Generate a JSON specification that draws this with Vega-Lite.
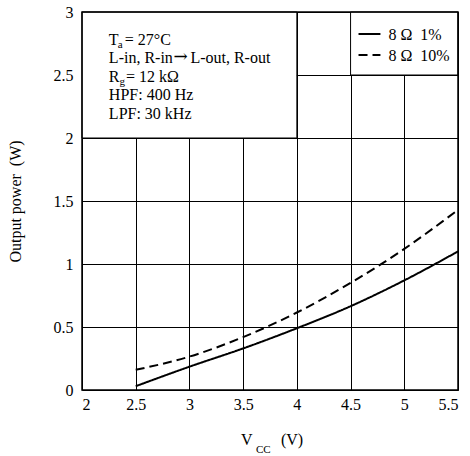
{
  "$schema": "https://vega.github.io/schema/vega-lite/v6.json",
  "width": 376,
  "height": 378,
  "autosize": {"type": "none"},
  "padding": {"left": 82, "top": 12, "right": 12, "bottom": 66},
  "background": "white",
  "config": {
    "view": {"stroke": null},
    "font": "Liberation Serif",
    "axis": {
      "labelFont": "Liberation Serif", "labelFontSize": 16, "labelColor": "black",
      "titleFont": "Liberation Serif", "titleFontSize": 16, "titleFontWeight": "normal", "titleColor": "black",
      "grid": true, "gridColor": "black", "gridWidth": 1, "gridOpacity": 1,
      "domain": false, "ticks": false
    }
  },
  "datasets": {
    "boxes": [
      {"x1": 2, "x2": 4, "y1": 2, "y2": 3},
      {"x1": 4.5, "x2": 5.5, "y1": 2.5, "y2": 3}
    ],
    "curves": [
      {"series": "8 Ω 1%", "V": 2.5, "P": 0.03},
      {"series": "8 Ω 1%", "V": 3.0, "P": 0.185},
      {"series": "8 Ω 1%", "V": 3.5, "P": 0.33},
      {"series": "8 Ω 1%", "V": 4.0, "P": 0.49},
      {"series": "8 Ω 1%", "V": 4.5, "P": 0.665},
      {"series": "8 Ω 1%", "V": 5.0, "P": 0.87},
      {"series": "8 Ω 1%", "V": 5.5, "P": 1.1},
      {"series": "8 Ω 10%", "V": 2.5, "P": 0.16},
      {"series": "8 Ω 10%", "V": 3.0, "P": 0.265},
      {"series": "8 Ω 10%", "V": 3.5, "P": 0.42},
      {"series": "8 Ω 10%", "V": 4.0, "P": 0.615},
      {"series": "8 Ω 10%", "V": 4.5, "P": 0.85},
      {"series": "8 Ω 10%", "V": 5.0, "P": 1.12},
      {"series": "8 Ω 10%", "V": 5.5, "P": 1.43}
    ],
    "legend": [
      {"series": "8 Ω 1%", "x1": 4.574, "x2": 4.778, "y": 2.825, "tx": 4.852, "ty": 2.778, "label": "8 Ω\u00a0\u00a01%"},
      {"series": "8 Ω 10%", "x1": 4.574, "x2": 4.778, "y": 2.659, "tx": 4.852, "ty": 2.611, "label": "8 Ω\u00a0\u00a010%"}
    ],
    "notes": [
      {"x": 2.25, "y": 2.738, "t": "T"},
      {"x": 2.398, "y": 2.738, "t": "= 27°C"},
      {"x": 2.25, "y": 2.595, "t": "L-in, R-in"},
      {"x": 3.009, "y": 2.595, "t": "L-out, R-out"},
      {"x": 2.25, "y": 2.444, "t": "R"},
      {"x": 2.41, "y": 2.444, "t": "= 12 kΩ"},
      {"x": 2.25, "y": 2.298, "t": "HPF: 400 Hz"},
      {"x": 2.25, "y": 2.151, "t": "LPF: 30 kHz"},
      {"x": 3.481, "y": -0.44, "t": "V"},
      {"x": 3.852, "y": -0.44, "t": "(V)"}
    ],
    "arrows": [
      {"x": 2.852, "y": 2.6, "t": "→"}
    ],
    "subs": [
      {"x": 2.333, "y": 2.714, "t": "a"},
      {"x": 2.35, "y": 2.421, "t": "g"},
      {"x": 3.62, "y": -0.5, "t": "CC"}
    ],
    "frame": [{"x1": 2, "x2": 5.5, "y1": 0, "y2": 3}]
  },
  "layer": [
    {
      "data": {"name": "boxes"},
      "mark": {"type": "rect", "fill": "white", "stroke": "black", "strokeWidth": 1},
      "encoding": {
        "x": {"field": "x1", "type": "quantitative",
              "scale": {"domain": [2, 5.5], "nice": false, "zero": false},
              "axis": {"values": [2, 2.5, 3, 3.5, 4, 4.5, 5, 5.5], "format": "~g", "title": null, "labelPadding": 6}},
        "x2": {"field": "x2"},
        "y": {"field": "y1", "type": "quantitative",
              "scale": {"domain": [0, 3], "nice": false, "zero": false},
              "axis": {"values": [0, 0.5, 1, 1.5, 2, 2.5, 3], "format": "~g", "title": "Output power\u00a0\u00a0(W)", "labelPadding": 9, "titlePadding": 30}},
        "y2": {"field": "y2"}
      }
    },
    {
      "data": {"name": "curves"},
      "mark": {"type": "line", "color": "black", "strokeWidth": 2, "interpolate": "monotone"},
      "encoding": {
        "x": {"field": "V", "type": "quantitative"},
        "y": {"field": "P", "type": "quantitative"},
        "strokeDash": {"field": "series", "type": "nominal",
                       "scale": {"domain": ["8 Ω 1%", "8 Ω 10%"], "range": [[1, 0], [9, 5]]},
                       "legend": null}
      }
    },
    {
      "data": {"name": "legend"},
      "mark": {"type": "rule", "color": "black", "strokeWidth": 2},
      "encoding": {
        "x": {"field": "x1", "type": "quantitative"},
        "x2": {"field": "x2"},
        "y": {"field": "y", "type": "quantitative"},
        "strokeDash": {"field": "series", "type": "nominal", "legend": null}
      }
    },
    {
      "data": {"name": "legend"},
      "mark": {"type": "text", "align": "left", "baseline": "alphabetic", "fontSize": 16, "font": "Liberation Serif", "color": "black"},
      "encoding": {
        "x": {"field": "tx", "type": "quantitative"},
        "y": {"field": "ty", "type": "quantitative"},
        "text": {"field": "label"}
      }
    },
    {
      "data": {"name": "notes"},
      "mark": {"type": "text", "align": "left", "baseline": "alphabetic", "fontSize": 16, "font": "Liberation Serif", "color": "black"},
      "encoding": {
        "x": {"field": "x", "type": "quantitative"},
        "y": {"field": "y", "type": "quantitative"},
        "text": {"field": "t"}
      }
    },
    {
      "data": {"name": "arrows"},
      "mark": {"type": "text", "align": "left", "baseline": "alphabetic", "fontSize": 17, "font": "DejaVu Serif", "color": "black"},
      "encoding": {
        "x": {"field": "x", "type": "quantitative"},
        "y": {"field": "y", "type": "quantitative"},
        "text": {"field": "t"}
      }
    },
    {
      "data": {"name": "subs"},
      "mark": {"type": "text", "align": "left", "baseline": "alphabetic", "fontSize": 11, "font": "Liberation Serif", "color": "black"},
      "encoding": {
        "x": {"field": "x", "type": "quantitative"},
        "y": {"field": "y", "type": "quantitative"},
        "text": {"field": "t"}
      }
    },
    {
      "data": {"name": "frame"},
      "mark": {"type": "rect", "fill": null, "fillOpacity": 0, "stroke": "black", "strokeWidth": 1.5},
      "encoding": {
        "x": {"field": "x1", "type": "quantitative"},
        "x2": {"field": "x2"},
        "y": {"field": "y1", "type": "quantitative"},
        "y2": {"field": "y2"}
      }
    }
  ]
}
